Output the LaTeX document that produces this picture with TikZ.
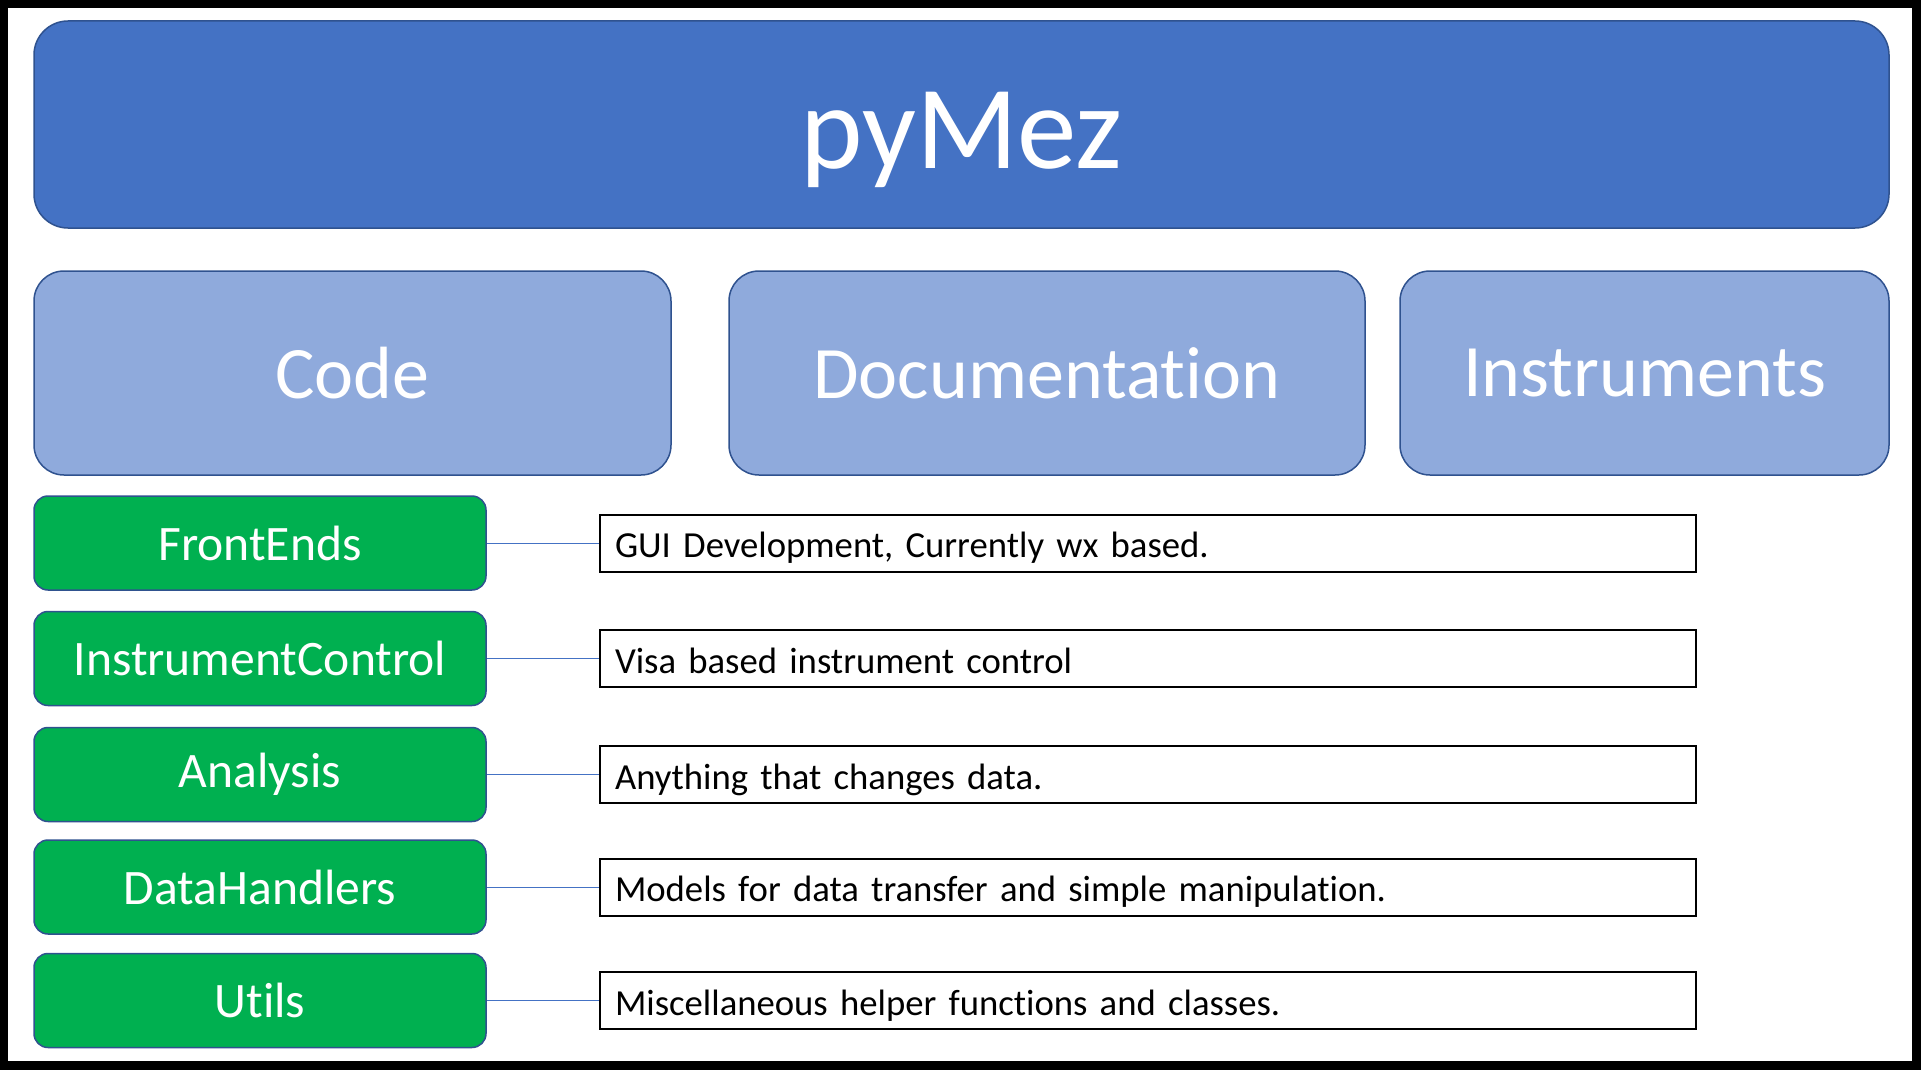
\documentclass[tikz,border=0pt]{standalone}
\usepackage{fontspec}
\setmainfont{Carlito}[Ligatures={NoCommon}]
\definecolor{topblue}{HTML}{4472C4}
\definecolor{paleblue}{HTML}{8FAADC}
\definecolor{edgeblue}{HTML}{2F528F}
\definecolor{modgreen}{HTML}{00B050}
\begin{document}
\begin{tikzpicture}[x=1pt,y=-1pt,
  title/.style={draw=edgeblue,fill=topblue,line width=1.5pt,rounded corners=34pt,
    text=white,inner sep=0pt,minimum width=1855pt,minimum height=207pt,
    text height=87pt,text depth=0pt,font=\fontsize{119}{130}\selectfont},
  part/.style={draw=edgeblue,fill=paleblue,line width=1.5pt,rounded corners=30pt,
    text=white,inner sep=0pt,minimum height=204pt,font=\fontsize{74}{80}\selectfont},
  module/.style={draw=edgeblue,fill=modgreen,line width=1.5pt,rounded corners=14pt,
    text=white,inner sep=0pt,minimum width=452pt,minimum height=94pt,
    font=\fontsize{49.6}{54}\selectfont},
  note/.style={draw=black,line width=2pt,inner xsep=15pt,inner ysep=0pt,
    text width=1066pt,align=left,minimum height=57pt,
    text height=31pt,text depth=2pt,font=\fontsize{36.7}{40}\selectfont},
  link/.style={draw=topblue,line width=1pt}]
\useasboundingbox (0,0) rectangle (1921,1070);
% frame
\fill[black] (0,0) rectangle (1921,1070);
\fill[white] (8,8) rectangle (1912,1061);
% top row
\node[title] (pymez) at (961.5,124.5) {pyMez};
\node[part,minimum width=637pt] (code) at (352.5,373) {Code};
\node[part,minimum width=636pt] (docs) at (1047,373) {Documentation};
\node[part,minimum width=489pt] (instr) at (1644.5,373) {Instruments};
% modules
\node[module] (frontends) at (260,543) {FrontEnds};
\node[module] (control) at (260,658.5) {InstrumentControl};
\node[module] (analysis) at (260,774.5) {Analysis};
\node[module] (handlers) at (260,887) {DataHandlers};
\node[module] (utils) at (260,1000.5) {Utils};
% notes
\node[note] (frontendsnote) at (1148,543) {GUI Development, Currently wx based.};
\node[note] (controlnote) at (1148,658.5) {Visa based instrument control};
\node[note] (analysisnote) at (1148,774.5) {Anything that changes data.};
\node[note] (handlersnote) at (1148,887) {Models for data transfer and simple manipulation.};
\node[note] (utilsnote) at (1148,1000.5) {Miscellaneous helper functions and classes.};
% links
\draw[link] (frontends) -- (frontendsnote);
\draw[link] (control) -- (controlnote);
\draw[link] (analysis) -- (analysisnote);
\draw[link] (handlers) -- (handlersnote);
\draw[link] (utils) -- (utilsnote);
\end{tikzpicture}
\end{document}
